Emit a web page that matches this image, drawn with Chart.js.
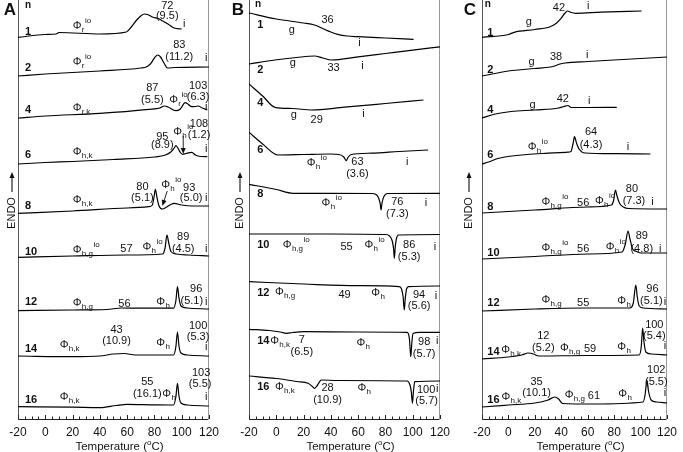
<!DOCTYPE html>
<html>
<head>
<meta charset="utf-8">
<script src="https://cdn.jsdelivr.net/npm/chart.js@4.4.0/dist/chart.umd.min.js"></script>
<style>
  body { margin: 0; background: #fff; width: 683px; height: 452px; position: relative; overflow: hidden; }
  canvas { position: absolute; top: 0; }
</style>
</head>
<body>
<canvas id="panelA" width="225" height="452" style="left:0px"></canvas>
<canvas id="panelB" width="225" height="452" style="left:231px"></canvas>
<canvas id="panelC" width="219" height="452" style="left:464px"></canvas>
<script>
const chainLengths = ['1', '2', '4', '6', '8', '10', '12', '14', '16'];
const tempTicks = [-20, 0, 20, 40, 60, 80, 100, 120];

// DSC traces: [temperature (°C), heat flow (a.u., stacked)]
const curvesA = [
  [[-20,381.7],[0,384.5],[8,385],[10,386.5],[40,385],[59.5,387],[63,392],[67,399],[70,403],[72.5,405],[75,404.5],[78.5,402],[83.5,400],[86,398],[91,394],[94.5,391],[100,390]],
  [[-20,343],[0,345],[40,348],[70,351],[74,352],[77,355],[80,361],[82.4,364],[84.5,362],[87,356],[89.6,351],[95,351.5],[120,352]],
  [[-20,301],[0,303],[40,305.7],[76,309.7],[84,311],[87.2,313],[90,312],[95.7,308.3],[99,310],[102.5,316.3],[104.5,315],[107.4,312.3],[110,312.5],[112.2,313],[115,311],[118.8,309]],
  [[-20,255],[0,256.5],[20,257.5],[50,259.5],[80,262],[88,264],[92,267],[94.5,271],[95.7,273.3],[97,271.5],[99,266.5],[100.6,264.7],[103,265.5],[107.4,266.7],[110,264],[114,262.5],[118.8,262.3]],
  [[-20,205.7],[20,208],[60,211],[76,212.3],[78.5,214],[79.7,222],[80.7,229.7],[81.8,222],[83.4,213],[85.8,210],[89,212],[92,214.5],[94.5,215.7],[100,214],[107.4,213],[120,213]],
  [[-20,161.7],[20,163],[60,164],[86,165],[87.8,171],[89.2,184],[90.5,176],[92.1,167.5],[96,165],[105,164],[120,163]],
  [[-20,108.3],[20,109],[45,109.5],[56,111],[70,110.8],[94,110.8],[95.7,118],[96.9,132.3],[98,121],[99.5,113],[104,111],[120,110]],
  [[-20,63],[20,62.3],[40,63],[50,65],[58,65.5],[66,64],[94,64],[95.7,72],[96.9,87],[98,73],[99.5,66],[104,64],[120,63]],
  [[-20,12.3],[20,11.8],[40,11.3],[52,13.5],[60,14.7],[80,14.2],[94,14],[95.7,22],[96.9,35.7],[98,23],[99.5,16],[104,14],[120,13]]
];
const curvesB = [
  [[-20,406],[0,400],[20,396],[28,394],[34,390.5],[40,387],[45,384.7],[52,383],[60,382.3],[80,381],[100.6,379.7]],
  [[-20,355],[-1,359],[15,361.5],[28,363],[34,361],[40.5,359],[60,362.2],[80,365.5],[100,368.8],[120,372.2]],
  [[-20,335],[-10,323],[-1,311.7],[12,310.5],[25.7,309],[50,311.8],[80,315.5],[107.9,319]],
  [[-20,286.7],[-10,275],[1.4,264],[20,264.5],[40,265],[46,264.5],[49.5,262],[51.3,258.3],[52.5,261.5],[55,264.5],[70,265.8],[90,267.5],[111.3,269]],
  [[-20,234.7],[0,229.5],[12.3,225.7],[40,225.7],[70,225.5],[73,224.5],[75,221],[76.2,215],[76.8,209],[77.5,216],[78.8,222.3],[81.7,225.5],[120,225.7]],
  [[-20,185],[40,185],[80,184.5],[83,183],[85,178],[86,170],[86.5,160.7],[87.2,172],[88,180],[89.5,184],[120,184.5]],
  [[-20,137.3],[20,135],[60,133.3],[90,132.3],[91.8,130],[93,122],[93.8,109],[94.5,120],[95.5,130],[97,132.3],[120,133]],
  [[-20,89.7],[-5,88.5],[3,87],[7.5,85.7],[12,86.5],[20,87.3],[60,87],[96,86.7],[97.6,80],[98.6,62.3],[99.3,75],[100.2,85.5],[105,86.7],[120,86.7]],
  [[-20,43],[0,40.5],[15,37.5],[23.3,35.7],[26,33],[28.1,30.7],[30,33.5],[33,39],[45,38.5],[96,38],[98,34],[99,27],[99.8,15.7],[100.5,27],[101.5,37.3],[120,38]]
];
const curvesC = [
  [[-20,381.7],[0,384.5],[4.3,386.7],[20,389.5],[31.6,392.3],[36,395.5],[39.8,400.7],[42.5,405.5],[44.7,408],[47.5,406.5],[50.8,405.7],[70,406.8],[100.8,408]],
  [[-20,343],[0,348],[20,350.5],[32,352],[36,353.5],[39,355],[43,356],[60,357.5],[80,359],[100,360.5],[120,362]],
  [[-20,301],[-10,305],[2,307.5],[20,309],[38,311],[42,312.5],[45,313.5],[47.5,311.5],[60,311.5],[82,311.7]],
  [[-20,255],[-15,257],[-8,260.5],[14,264.5],[30,265.8],[45,266.8],[47.3,267.5],[49,276],[50,282.3],[51.5,276],[53.7,269.5],[58,266],[80,265.3],[107.5,265]],
  [[-20,206],[20,209],[60,212],[78,214],[79.5,218],[81,229],[82,224],[84,216],[87,212],[91,210.5],[120,210]],
  [[-20,160],[20,162.5],[60,165],[86,167],[88.5,175],[90.5,188],[92,180],[94,170],[97,167.5],[100,166],[120,166]],
  [[-20,108],[20,110],[56,111],[92,111],[94.5,116],[96.4,134],[97.5,122],[99,113],[102,111],[120,110]],
  [[-20,60],[0,62],[10,64],[15,66],[19,65],[23,63],[60,63.5],[99,64],[100.5,72],[101.6,91],[102.5,78],[104,67],[108,65],[120,64]],
  [[-20,12],[0,14],[20,16],[30,19],[35,22],[38,20],[41,15.5],[63,15],[102,17],[103.5,25],[104.8,39],[106,28],[108,19],[112,17],[120,16]]
];

// where each n number sits: [T, level]
const nSpotsA = [[-14.9,387],[-14.9,351],[-14.9,309],[-14.9,264],[-14.9,213],[-14.9,167],[-14.9,117],[-14.9,70],[-14.9,19]];
const nSpotsB = [[-14,394],[-14,349],[-14,316],[-14,269],[-14,225],[-14,174],[-14,126],[-14,78],[-14,32]];
const nSpotsC = [[-16,386],[-16,349],[-16,309],[-16,264],[-16,212],[-16,166],[-16,116],[-16,67],[-16,19]];

// transition labels: [T, level, text, subscript, superscript]
const notesA = [
  [20.1,393,'Φ','r','io'],[89.4,413,'72'],[89.4,403,'(9.5)'],[101.8,395,'i'],
  [20.1,357,'Φ','r','io'],[98.2,374,'83'],[98.2,362,'(11.2)'],[117.9,361,'i'],
  [20.1,311,'Φ','r,k'],[78.5,331,'87'],[78.5,319,'(5.5)'],[90.9,319,'Φ','r','io'],[112,333,'103'],[112,322,'(6.3)'],[117.9,312,'i'],
  [20.1,267,'Φ','h,k'],[85.8,282,'95'],[85.8,274,'(8.9)'],[93.8,287,'Φ','h','io'],[112.7,295,'108'],[112.7,284,'(1.2)'],[117.9,270,'i'],
  [20.1,219,'Φ','h,k'],[71.2,232,'80'],[71.2,221,'(5.1)'],[85,234,'Φ','h','io'],[105.5,231,'93'],[106.9,221,'(5.0)'],[117.9,221,'i'],
  [20.1,169,'Φ','h,g','io'],[59.5,170,'57'],[71.2,172,'Φ','h','io'],[101.1,182,'89'],[101.1,170,'(4.5)'],[117.9,170,'i'],
  [20.1,116,'Φ','h,g'],[58,115,'56'],[81.4,117,'Φ','h'],[110.6,130,'96'],[107.4,118,'(5.1)'],[117.9,117,'i'],
  [10.6,74,'Φ','h,k'],[52.2,89,'43'],[52.2,78,'(10.9)'],[81.4,76,'Φ','h'],[112,93,'100'],[112,82,'(5.3)'],[117.9,72,'i'],
  [10.6,22,'Φ','h,k'],[74.8,37,'55'],[74.8,25,'(16.1)'],[85.8,25,'Φ','h'],[114.2,46,'103'],[113.5,35,'(5.5)'],[117.9,22,'i']
];
const notesB = [
  [11.4,389,'g'],[37.6,399,'36'],[61,376,'i'],
  [12.1,356,'g'],[42,351,'33'],[63.2,353,'i'],
  [12.8,304,'g'],[29.6,299,'29'],[63.9,305,'i'],
  [22.3,256,'Φ','h','io'],[59.5,257,'63'],[59.5,245,'(3.6)'],[96,257,'i'],
  [33.2,216,'Φ','h','io'],[88.7,217,'76'],[88.7,205,'(7.3)'],[109.8,216,'i'],
  [4.8,174,'Φ','h,g','io'],[51.5,172,'55'],[64.6,174,'Φ','h','io'],[97.4,174,'86'],[97.4,162,'(5.3)'],[116.4,172,'i'],
  [-1,127,'Φ','h,g'],[50,124,'49'],[69.7,126,'Φ','h'],[104.7,124,'94'],[104.7,113,'(5.6)'],[117.1,123,'i'],
  [-4.5,78,'Φ','h,k'],[18.7,79,'7'],[18.7,67,'(6.5)'],[58.8,76,'Φ','h'],[108.4,77,'98'],[108.4,65,'(5.7)'],[117.9,78,'i'],
  [-1,32,'Φ','h,k'],[37.6,31,'28'],[37.6,19,'(10.9)'],[59.5,31,'Φ','h'],[109.8,29,'100'],[110.2,18,'(5.7)'],[117.9,30,'i']
];
const notesC = [
  [15.4,397,'g'],[38.2,411,'42'],[60.3,413,'i'],
  [17.6,357,'g'],[36,362,'38'],[59.6,364,'i'],
  [18.3,314,'g'],[41.2,320,'42'],[61.1,318,'i'],
  [14.6,272,'Φ','h','io'],[62.5,287,'64'],[62.5,274,'(4.3)'],[90.5,272,'i'],
  [25,217,'Φ','h,g','io'],[56.6,216,'56'],[65.5,218,'Φ','h','io'],[93.5,230,'80'],[95,218,'(7.3)'],[109,217,'i'],
  [25,171,'Φ','h,g','io'],[56.6,170,'56'],[73.6,172,'Φ','h','io'],[100.9,183,'89'],[100.9,170,'(4.8)'],[114.9,170,'i'],
  [25,119,'Φ','h,g'],[56.6,116,'55'],[82.4,118,'Φ','h'],[109,130,'96'],[108.2,118,'(5.1)'],[118.5,117,'i'],
  [-5.5,69,'Φ','h,k'],[26.4,83,'12'],[26.4,71,'(5.2)'],[39,71,'Φ','h,g'],[61.8,70,'59'],[82.4,72,'Φ','h'],[110.4,94,'100'],[110.4,83,'(5.4)'],[118.5,73,'i'],
  [-5.3,22,'Φ','h,k'],[21.3,37,'35'],[21.3,26,'(10.1)'],[42.6,24,'Φ','h,g'],[64.7,23,'61'],[83.2,25,'Φ','h'],[111.9,49,'102'],[111.9,37,'(5.5)'],[118.5,26,'i']
];
// pointer arrows: [T from, level from, T to, level to]
const arrowsA = [[101.1,283,101.1,265],[89.4,228,85.8,213]];

const FONT = 'Arial, "Liberation Sans", sans-serif';

function arrowHead(ctx, x1, y1, x2, y2) {
  const a = Math.atan2(y2 - y1, x2 - x1);
  ctx.beginPath(); ctx.moveTo(x1, y1); ctx.lineTo(x2 - 4 * Math.cos(a), y2 - 4 * Math.sin(a)); ctx.stroke();
  ctx.beginPath();
  ctx.moveTo(x2, y2);
  ctx.lineTo(x2 - 6 * Math.cos(a) + 2.5 * Math.sin(a), y2 - 6 * Math.sin(a) - 2.5 * Math.cos(a));
  ctx.lineTo(x2 - 6 * Math.cos(a) - 2.5 * Math.sin(a), y2 - 6 * Math.sin(a) + 2.5 * Math.cos(a));
  ctx.closePath(); ctx.fill();
}

function phiText(ctx, x, y, sub, sup) {
  ctx.textAlign = 'left';
  ctx.font = '11px ' + FONT;
  ctx.fillText('Φ', x, y);
  let cx = x + ctx.measureText('Φ').width + 0.3;
  ctx.font = '8px ' + FONT;
  if (sub) { ctx.fillText(sub, cx, y + 4); cx += ctx.measureText(sub).width + 0.5; }
  if (sup) ctx.fillText(sup, cx, y - 5);
}

const decor = {
  id: 'decor',
  afterDraw(chart, args, o) {
    const {ctx, chartArea: ca, scales: {x, y}} = chart;
    ctx.save();
    ctx.strokeStyle = '#222';
    ctx.fillStyle = '#111';
    ctx.lineWidth = 1;
    // inward tick marks
    x.ticks.forEach(t => {
      const px = Math.round(x.getPixelForValue(t.value)) + 0.5;
      const len = tempTicks.includes(t.value) ? 4 : 2.5;
      ctx.beginPath(); ctx.moveTo(px, ca.bottom); ctx.lineTo(px, ca.bottom - len); ctx.stroke();
    });
    ctx.textBaseline = 'middle';
    ctx.font = 'bold 11px ' + FONT; ctx.textAlign = 'left';
    o.nSpots.forEach((p, i) => ctx.fillText(chainLengths[i], x.getPixelForValue(p[0]), y.getPixelForValue(p[1])));
    ctx.font = 'bold 10px ' + FONT; ctx.textAlign = 'center';
    ctx.fillText('n', x.getPixelForValue(o.nHead[0]), y.getPixelForValue(o.nHead[1]));
    o.notes.forEach(n => {
      const px = x.getPixelForValue(n[0]), py = y.getPixelForValue(n[1]);
      if (n[2] === 'Φ') { phiText(ctx, px, py, n[3], n[4]); }
      else { ctx.font = '11px ' + FONT; ctx.textAlign = 'center'; ctx.fillText(n[2], px, py); }
    });
    o.arrows.forEach(a => arrowHead(ctx, x.getPixelForValue(a[0]), y.getPixelForValue(a[1]),
                                        x.getPixelForValue(a[2]), y.getPixelForValue(a[3])));
    // panel letter
    ctx.font = 'bold 17px ' + FONT; ctx.textAlign = 'center';
    ctx.fillText(o.letter, ca.left - o.letterDx, 10);
    // ENDO with arrow
    const ex = ca.left - o.endoDx;
    ctx.save();
    ctx.translate(ex, 213); ctx.rotate(-Math.PI / 2);
    ctx.font = '11px ' + FONT; ctx.textAlign = 'center';
    ctx.fillText('ENDO', 0, 0);
    ctx.restore();
    ctx.lineWidth = 1.2;
    arrowHead(ctx, ex, 192, ex, 172);
    // axis title with superscript o
    ctx.font = '11.5px ' + FONT;
    const t1 = 'Temperature (', t3 = 'C)';
    const w1 = ctx.measureText(t1).width, w3 = ctx.measureText(t3).width;
    ctx.font = '8px ' + FONT;
    const w2 = ctx.measureText('o').width;
    let tx = (ca.left + ca.right) / 2 + 6 - (w1 + w2 + w3) / 2;
    ctx.textAlign = 'left';
    ctx.font = '11.5px ' + FONT; ctx.fillText(t1, tx, 446.5);
    ctx.font = '8px ' + FONT; ctx.fillText('o', tx + w1, 442.5);
    ctx.font = '11.5px ' + FONT; ctx.fillText(t3, tx + w1 + w2, 446.5);
    ctx.restore();
  }
};

function makePanel(id, curves, padRight, extra) {
  new Chart(document.getElementById(id), {
    type: 'line',
    data: {
      datasets: curves.map(c => ({
        data: c.map(p => ({x: p[0], y: p[1]})),
        borderColor: '#000',
        borderWidth: 1.2,
        pointRadius: 0,
        fill: false,
        cubicInterpolationMode: 'monotone'
      }))
    },
    options: {
      responsive: false,
      animation: false,
      devicePixelRatio: 1,
      layout: {padding: {left: 18, right: padRight, top: 0, bottom: 0}},
      plugins: {legend: {display: false}, tooltip: {enabled: false}, decor: extra},
      scales: {
        x: {
          type: 'linear', min: -20, max: 120,
          grid: {display: false, drawTicks: false},
          border: {display: true, color: '#222', width: 1},
          ticks: {
            stepSize: 5, autoSkip: false, maxRotation: 0, padding: 6,
            color: '#111', font: {family: FONT, size: 12},
            callback: v => tempTicks.includes(v) ? String(v) : ''
          },
          afterFit: s => { s.height = 33; }
        },
        y: {
          min: 0, max: 419,
          grid: {display: false},
          ticks: {display: false},
          border: {display: true, color: '#555', width: 1},
          afterFit: s => { s.width = 0; }
        },
        y2: {
          position: 'right', min: 0, max: 419,
          grid: {display: false},
          ticks: {display: false},
          border: {display: true, color: '#999', width: 1},
          afterFit: s => { s.width = 0; }
        }
      }
    },
    plugins: [decor]
  });
}

makePanel('panelA', curvesA, 15, {letter: 'A', letterDx: 8, endoDx: 6, nHead: [-12.7, 414], nSpots: nSpotsA, notes: notesA, arrows: arrowsA});
makePanel('panelB', curvesB, 15, {letter: 'B', letterDx: 11, endoDx: 9, nHead: [-13.4, 415], nSpots: nSpotsB, notes: notesB, arrows: []});
makePanel('panelC', curvesC, 11, {letter: 'C', letterDx: 12, endoDx: 13, nHead: [-15.6, 415], nSpots: nSpotsC, notes: notesC, arrows: []});
</script>
</body>
</html>
